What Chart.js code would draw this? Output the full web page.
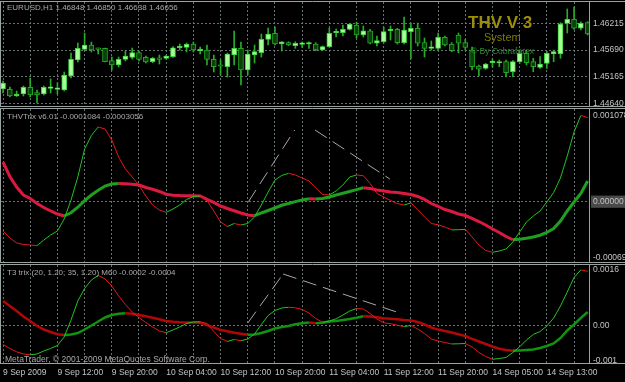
<!DOCTYPE html>
<html>
<head>
<meta charset="utf-8">
<script src="https://cdn.jsdelivr.net/npm/chart.js@4.4.0/dist/chart.umd.min.js"></script>
<style>
    html, body { margin: 0; padding: 0; background: #000; }
    #wrap { position: relative; width: 625px; height: 382px; background: #000; overflow: hidden; }
    .pane { position: absolute; left: 0; width: 625px; }
    canvas { display: block; }
</style>
</head>
<body>
<div id="wrap">
    <div class="pane" style="top:0;height:108px"><canvas id="priceChart" width="625" height="108"></canvas></div>
    <div class="pane" style="top:108px;height:155px"><canvas id="thvChart" width="625" height="155"></canvas></div>
    <div class="pane" style="top:263px;height:119px"><canvas id="t3Chart" width="625" height="119"></canvas></div>
</div>
<script>
// time axis labels, one every 8 hourly bars
const timeLabels = ['9 Sep 2009', '9 Sep 12:00', '9 Sep 20:00', '10 Sep 04:00', '10 Sep 12:00', '10 Sep 20:00',
    '11 Sep 04:00', '11 Sep 12:00', '11 Sep 20:00', '14 Sep 05:00', '14 Sep 13:00'];

// EURUSD H1 candles
const openPrices = [1.44923, 1.44917, 1.44786, 1.44825, 1.44957, 1.44851, 1.44825, 1.44937, 1.44917, 1.44904,
    1.45179, 1.45493, 1.45704, 1.45788, 1.45720, 1.45723, 1.45480, 1.45395, 1.45507, 1.45546,
    1.45637, 1.45546, 1.45460, 1.45510, 1.45527, 1.45559, 1.45735, 1.45743, 1.45808, 1.45676,
    1.45690, 1.45507, 1.45375, 1.45362, 1.45592, 1.45723, 1.45297, 1.45592, 1.45637, 1.45900,
    1.46018, 1.45808, 1.45834, 1.45775, 1.45802, 1.45808, 1.45808, 1.45690, 1.45755, 1.46030,
    1.46030, 1.46097, 1.46181, 1.45985, 1.46069, 1.45822, 1.45853, 1.46069, 1.46097, 1.45834,
    1.46050, 1.46117, 1.45834, 1.45723, 1.45723, 1.45940, 1.45808, 1.45985, 1.45834, 1.45690,
    1.45375, 1.45330, 1.45441, 1.45434, 1.45460, 1.45263, 1.45460, 1.45625, 1.45460, 1.45350,
    1.45428, 1.45611, 1.45611, 1.46215, 1.46294, 1.46117, 1.46227];
const highPrices = [1.45081, 1.44963, 1.44884, 1.44982, 1.45140, 1.44904, 1.44982, 1.45120, 1.45041, 1.45258,
    1.45631, 1.45828, 1.46024, 1.45847, 1.45729, 1.45729, 1.45552, 1.45552, 1.45670, 1.45729,
    1.45670, 1.45572, 1.45546, 1.45592, 1.45592, 1.45755, 1.45808, 1.45828, 1.45847, 1.45749,
    1.45788, 1.45592, 1.45493, 1.45631, 1.46064, 1.45847, 1.45690, 1.45788, 1.46005, 1.46123,
    1.46142, 1.45853, 1.45853, 1.45853, 1.45853, 1.45853, 1.45834, 1.45769, 1.46123, 1.46103,
    1.46181, 1.46215, 1.46240, 1.46162, 1.46097, 1.45965, 1.46142, 1.46162, 1.46117, 1.46339,
    1.46221, 1.46221, 1.45926, 1.45867, 1.46024, 1.45965, 1.45834, 1.46024, 1.45900, 1.45749,
    1.45395, 1.45428, 1.45513, 1.45493, 1.45493, 1.45480, 1.45676, 1.45676, 1.45527, 1.45559,
    1.45657, 1.45690, 1.46227, 1.46496, 1.46535, 1.46246, 1.46246];
const lowPrices = [1.44845, 1.44766, 1.44776, 1.44786, 1.44766, 1.44648, 1.44805, 1.44845, 1.44825, 1.44884,
    1.45140, 1.45454, 1.45690, 1.45651, 1.45611, 1.45454, 1.45297, 1.45356, 1.45474, 1.45513,
    1.45474, 1.45434, 1.45441, 1.45415, 1.45507, 1.45546, 1.45690, 1.45651, 1.45651, 1.45611,
    1.45395, 1.45258, 1.45199, 1.45159, 1.45395, 1.45002, 1.45199, 1.45434, 1.45552, 1.45788,
    1.45788, 1.45670, 1.45775, 1.45723, 1.45743, 1.45723, 1.45676, 1.45676, 1.45749, 1.45946,
    1.45965, 1.46083, 1.45926, 1.45946, 1.45808, 1.45769, 1.45828, 1.45887, 1.45808, 1.45808,
    1.45513, 1.45769, 1.45552, 1.45690, 1.45690, 1.45769, 1.45657, 1.45631, 1.45690, 1.45297,
    1.45179, 1.45311, 1.45356, 1.45362, 1.45159, 1.45165, 1.45428, 1.45395, 1.45263, 1.45330,
    1.45330, 1.45460, 1.45527, 1.46024, 1.46097, 1.46083, 1.45985];
const closePrices = [1.45041, 1.44786, 1.44825, 1.44957, 1.44805, 1.44805, 1.44957, 1.44943, 1.44923, 1.45199,
    1.45507, 1.45723, 1.45788, 1.45690, 1.45704, 1.45460, 1.45395, 1.45507, 1.45572, 1.45637,
    1.45507, 1.45454, 1.45527, 1.45507, 1.45572, 1.45735, 1.45740, 1.45802, 1.45690, 1.45680,
    1.45507, 1.45362, 1.45370, 1.45611, 1.45723, 1.45297, 1.45611, 1.45657, 1.45900, 1.46005,
    1.45808, 1.45853, 1.45788, 1.45822, 1.45806, 1.45810, 1.45690, 1.45755, 1.46018, 1.46034,
    1.46097, 1.46201, 1.45985, 1.46069, 1.45822, 1.45873, 1.46050, 1.46083, 1.45834, 1.46083,
    1.46117, 1.45822, 1.45723, 1.45727, 1.45940, 1.45788, 1.45676, 1.45822, 1.45743, 1.45362,
    1.45311, 1.45415, 1.45444, 1.45454, 1.45244, 1.45460, 1.45625, 1.45441, 1.45362, 1.45415,
    1.45625, 1.45657, 1.46201, 1.46294, 1.46117, 1.46215, 1.46005];

// THVTrix v6.01 (fast trix + signal)
const thvTrix = [-0.000366, -0.000454, -0.000516, -0.000535, -0.000541, -0.000550, -0.000479, -0.000416, -0.000366, -0.000216,
    0.000021, 0.000309, 0.000659, 0.000828, 0.000934, 0.000909, 0.000771, 0.000559, 0.000409, 0.000309,
    0.000203, 0.000071, -0.000041, -0.000104, -0.000133, -0.000091, -0.000041, 0.000028, 0.000065, 0.000071,
    0.000015, -0.000116, -0.000254, -0.000310, -0.000273, -0.000291, -0.000273, -0.000191, -0.000041, 0.000121,
    0.000271, 0.000328, 0.000355, 0.000334, 0.000296, 0.000259, 0.000178, 0.000090, 0.000084, 0.000134,
    0.000209, 0.000309, 0.000334, 0.000325, 0.000228, 0.000103, 0.000059, 0.000015, -0.000023, -0.000041,
    -0.000016, -0.000098, -0.000191, -0.000273, -0.000289, -0.000316, -0.000352, -0.000350, -0.000346, -0.000441,
    -0.000541, -0.000610, -0.000633, -0.000616, -0.000591, -0.000504, -0.000379, -0.000254, -0.000179, -0.000116,
    -0.000004, 0.000115, 0.000296, 0.000571, 0.000871, 0.001078, 0.001052];
const thvSignal = [0.000496, 0.000315, 0.000184, 0.000084, 0.000040, -0.000023, -0.000073, -0.000116, -0.000154, -0.000179,
    -0.000138, -0.000069, 0.000014, 0.000084, 0.000143, 0.000196, 0.000221, 0.000226, 0.000225, 0.000219,
    0.000209, 0.000178, 0.000155, 0.000128, 0.000094, 0.000080, 0.000076, 0.000075, 0.000074, 0.000071,
    0.000030, -0.000009, -0.000054, -0.000085, -0.000113, -0.000141, -0.000166, -0.000175, -0.000141, -0.000110,
    -0.000079, -0.000045, -0.000023, 0.000001, 0.000021, 0.000036, 0.000034, 0.000040, 0.000059, 0.000084,
    0.000105, 0.000128, 0.000151, 0.000175, 0.000165, 0.000146, 0.000134, 0.000121, 0.000115, 0.000103,
    0.000090, 0.000065, 0.000028, -0.000023, -0.000060, -0.000098, -0.000123, -0.000154, -0.000173, -0.000210,
    -0.000248, -0.000291, -0.000341, -0.000385, -0.000435, -0.000476, -0.000470, -0.000458, -0.000441, -0.000419,
    -0.000385, -0.000335, -0.000241, -0.000116, -0.000004, 0.000103, 0.000259];

// T3 trix (20, 1.20; 35, 1.20) M60
const t3Trix = [-0.000540, -0.000654, -0.000749, -0.000812, -0.000835, -0.000812, -0.000726, -0.000654, -0.000568, -0.000324,
    0.000164, 0.000709, 0.001068, 0.001312, 0.001446, 0.001340, 0.001139, 0.000852, 0.000608, 0.000393,
    0.000235, 0.000092, -0.000037, -0.000152, -0.000201, -0.000123, -0.000037, 0.000063, 0.000106, 0.000110,
    0.000063, -0.000166, -0.000367, -0.000453, -0.000396, -0.000431, -0.000382, -0.000238, 0.000034, 0.000293,
    0.000436, 0.000508, 0.000528, 0.000514, 0.000465, 0.000364, 0.000207, 0.000098, 0.000135, 0.000198,
    0.000307, 0.000422, 0.000494, 0.000479, 0.000350, 0.000192, 0.000083, 0.000057, 0.000014, -0.000029,
    0.000011, -0.000095, -0.000224, -0.000382, -0.000439, -0.000482, -0.000525, -0.000519, -0.000511, -0.000611,
    -0.000769, -0.000884, -0.000964, -0.000941, -0.000913, -0.000769, -0.000606, -0.000410, -0.000253, -0.000166,
    -0.000009, 0.000221, 0.000565, 0.000967, 0.001383, 0.001600, 0.001561];
const t3Signal = [0.000709, 0.000565, 0.000422, 0.000264, 0.000135, -0.000009, -0.000109, -0.000181, -0.000244, -0.000267,
    -0.000253, -0.000210, -0.000109, 0.000006, 0.000121, 0.000235, 0.000307, 0.000342, 0.000356, 0.000342,
    0.000307, 0.000270, 0.000227, 0.000184, 0.000135, 0.000112, 0.000100, 0.000095, 0.000089, 0.000083,
    0.000020, -0.000052, -0.000123, -0.000161, -0.000201, -0.000232, -0.000261, -0.000255, -0.000210, -0.000152,
    -0.000080, -0.000037, -0.000009, 0.000040, 0.000069, 0.000092, 0.000069, 0.000083, 0.000121, 0.000135,
    0.000164, 0.000192, 0.000227, 0.000270, 0.000261, 0.000241, 0.000215, 0.000198, 0.000184, 0.000164,
    0.000149, 0.000106, 0.000034, -0.000052, -0.000112, -0.000152, -0.000195, -0.000244, -0.000296, -0.000376,
    -0.000453, -0.000525, -0.000597, -0.000663, -0.000697, -0.000718, -0.000709, -0.000697, -0.000683, -0.000640,
    -0.000583, -0.000511, -0.000353, -0.000138, 0.000034, 0.000221, 0.000393];

// hand drawn trend lines (bar index, value)
const thvTrendUp = [{ x: 36.1, y: 0.0 }, { x: 42.9, y: 0.000896 }];
const thvTrendDown = [{ x: 45.9, y: 0.000896 }, { x: 56.9, y: 0.000284 }];
const t3TrendUp = [{ x: 36.0, y: 0.000077 }, { x: 41.2, y: 0.001484 }];
const t3TrendDown = [{ x: 41.2, y: 0.001484 }, { x: 57.9, y: 0.000393 }];

// scale ticks
const priceTicks = [1.46215, 1.45690, 1.45165, 1.44640];
const priceTickLabels = ['1.46215', '1.45690', '1.45165', '1.44640'];
const thvTicks = [0.001078, 0, -0.000694];
const thvTickLabels = ['0.001078', '0.00000', '-0.000694'];
const t3Ticks = [0.0016, 0, -0.001];
const t3TickLabels = ['0.0016', '0.00', '-0.001'];

const gridColor = '#667272';
const frameColor = '#9aa2a2';
const textColor = '#c4c4c4';
const tickFont = { family: 'Liberation Sans', size: 8.5 };
const greenThin = '#22c322';
const redThin = '#e41818';

const paneText = {
    id: 'paneText',
    afterDraw(chart, args, opts) {
        const ctx = chart.ctx;
        ctx.save();
        ctx.textBaseline = 'middle';
        (opts.items || []).forEach(function (t) {
            ctx.font = t.font;
            ctx.fillStyle = t.color;
            ctx.textAlign = t.align || 'left';
            ctx.fillText(t.text, t.x, t.y);
        });
        ctx.restore();
    }
};

const paneFrame = {
    id: 'paneFrame',
    afterDraw(chart) {
        const ctx = chart.ctx;
        const a = chart.chartArea;
        ctx.save();
        ctx.strokeStyle = frameColor;
        ctx.lineWidth = 1;
        ctx.beginPath();
        ctx.moveTo(0, a.top - 0.5); ctx.lineTo(chart.width, a.top - 0.5);
        ctx.moveTo(0, a.bottom + 0.5); ctx.lineTo(chart.width, a.bottom + 0.5);
        ctx.moveTo(a.right + 0.5, a.top - 0.5); ctx.lineTo(a.right + 0.5, a.bottom + 0.5);
        ctx.moveTo(0.5, a.top - 0.5); ctx.lineTo(0.5, a.bottom + 0.5);
        ctx.stroke();
        ctx.restore();
    }
};

function xAxis(showLabels) {
    return {
        type: 'linear',
        min: -0.3,
        max: 86.2,
        offset: false,
        afterBuildTicks: function (scale) {
            const t = [];
            for (let v = 0; v <= 84; v += 4) t.push({ value: v });
            scale.ticks = t;
        },
        afterFit: function (scale) {
            scale.height = showLabels ? 19 : 0;
            scale.paddingLeft = 0;
            scale.paddingRight = 0;
        },
        grid: { color: gridColor, drawTicks: false, offset: false },
        border: { display: false, dash: [2, 2] },
        ticks: {
            display: showLabels,
            autoSkip: false,
            maxRotation: 0,
            align: 'start',
            padding: 5,
            color: textColor,
            font: tickFont,
            callback: function (v) { return v % 8 === 0 ? timeLabels[v / 8] : ''; }
        }
    };
}

function yAxis(min, max, values, labels, zeroOnly) {
    return {
        position: 'right',
        min: min,
        max: max,
        afterBuildTicks: function (scale) { scale.ticks = values.map(v => ({ value: v })); },
        afterFit: function (scale) {
            scale.width = 36;
            scale.paddingTop = 0;
            scale.paddingBottom = 0;
        },
        grid: {
            drawTicks: false,
            color: ctx => (!zeroOnly || (ctx.tick && ctx.tick.value === 0)) ? gridColor : 'rgba(0,0,0,0)'
        },
        border: { display: false, dash: [2, 2] },
        ticks: {
            padding: 4,
            color: textColor,
            font: tickFont,
            showLabelBackdrop: ctx => zeroOnly && ctx.tick && ctx.tick.value === 0 && labels[1] === '0.00000',
            backdropColor: '#4a4a4a',
            backdropPadding: { left: 2, right: 3, top: 1, bottom: 1 },
            callback: function (v, i) { return labels[i]; }
        }
    };
}

function slope(up, down) {
    return ctx => ctx.p1.parsed.y >= ctx.p0.parsed.y ? up : down;
}

function indicatorSets(fast, signal, trendA, trendB, thick) {
    return [
        {
            data: trendA, borderColor: '#a8a8a8', borderWidth: 1, borderDash: [14, 7],
            pointRadius: 0, order: 0
        },
        {
            data: trendB, borderColor: '#a8a8a8', borderWidth: 1, borderDash: [14, 7],
            pointRadius: 0, order: 0
        },
        {
            data: fast.map((v, i) => ({ x: i, y: v })),
            borderColor: greenThin, borderWidth: 1, pointRadius: 0, order: 1,
            segment: { borderColor: slope(greenThin, redThin) }
        },
        {
            data: signal.map((v, i) => ({ x: i, y: v })),
            borderColor: thick.up, borderWidth: thick.width, pointRadius: 0, order: 2,
            segment: { borderColor: slope(thick.up, thick.down) }
        }
    ];
}

const noTooltips = { legend: { display: false }, tooltip: { enabled: false } };
const headFont = "8px 'Liberation Sans'";

// price pane
new Chart(document.getElementById('priceChart'), {
    type: 'bar',
    data: {
        datasets: [
            {
                data: openPrices.map((o, i) => ({ x: i, y: [o, closePrices[i]] })),
                backgroundColor: ctx => closePrices[ctx.dataIndex] >= openPrices[ctx.dataIndex] ? '#a6ff98' : '#0c3f0c',
                borderColor: ctx => closePrices[ctx.dataIndex] >= openPrices[ctx.dataIndex] ? '#3fcf3f' : '#23a823',
                borderWidth: 1,
                borderSkipped: false,
                barThickness: 5,
                minBarLength: 1.5,
                grouped: false,
                order: 0
            },
            {
                data: lowPrices.map((l, i) => ({ x: i, y: [l, highPrices[i]] })),
                backgroundColor: '#27ad27',
                barThickness: 1,
                grouped: false,
                order: 1
            }
        ]
    },
    options: {
        responsive: false,
        animation: false,
        devicePixelRatio: 1,
        layout: { padding: { top: 2, bottom: 2, left: 1, right: 0 } },
        plugins: Object.assign({}, noTooltips, {
            paneText: {
                items: [
                    { text: 'EURUSD,H1 1.46848 1.46850 1.46638 1.46656', x: 7, y: 8, font: headFont, color: '#a9a9a9' },
                    { text: 'THV V 3', x: 468, y: 23, font: "bold 17px 'Liberation Sans'", color: '#9b8f0a' },
                    { text: 'System', x: 484, y: 38, font: "11px 'Liberation Sans'", color: '#7f7a06' },
                    { text: '\u00a9 By Cobraforex', x: 471, y: 52, font: "8.5px 'Liberation Sans'", color: '#2a8a2a' }
                ]
            }
        }),
        scales: {
            x: xAxis(false),
            y: yAxis(1.44589, 1.46634, priceTicks, priceTickLabels, false)
        }
    },
    plugins: [paneFrame, paneText]
});

// THVTrix pane
new Chart(document.getElementById('thvChart'), {
    type: 'line',
    data: { datasets: indicatorSets(thvTrix, thvSignal, thvTrendUp, thvTrendDown, { up: '#1f9f1f', down: '#dc1a40', width: 3 }) },
    options: {
        responsive: false,
        animation: false,
        devicePixelRatio: 1,
        layout: { padding: { top: 1, bottom: 1, left: 1, right: 0 } },
        plugins: Object.assign({}, noTooltips, {
            paneText: {
                items: [
                    { text: 'THVTrix v6.01 -0.0001084 -0.0003056', x: 7, y: 9, font: headFont, color: '#a9a9a9' }
                ]
            }
        }),
        scales: {
            x: xAxis(false),
            y: yAxis(-0.000754, 0.001159, thvTicks, thvTickLabels, true)
        }
    },
    plugins: [paneFrame, paneText]
});

// T3 trix pane
new Chart(document.getElementById('t3Chart'), {
    type: 'line',
    data: { datasets: indicatorSets(t3Trix, t3Signal, t3TrendUp, t3TrendDown, { up: '#129212', down: '#b00808', width: 2.5 }) },
    options: {
        responsive: false,
        animation: false,
        devicePixelRatio: 1,
        layout: { padding: { top: 2, bottom: 0, left: 1, right: 0 } },
        plugins: Object.assign({}, noTooltips, {
            paneText: {
                items: [
                    { text: 'T3 trix (20, 1.20; 35, 1.20) M60 -0.0002 -0.0004', x: 7, y: 10, font: headFont, color: '#a9a9a9' },
                    { text: 'MetaTrader, \u00a9 2001-2009 MetaQuotes Software Corp.', x: 5, y: 97, font: "8.5px 'Liberation Sans'", color: '#a9a9a9' }
                ]
            }
        }),
        scales: {
            x: xAxis(true),
            y: yAxis(-0.001071, 0.001742, t3Ticks, t3TickLabels, true)
        }
    },
    plugins: [paneFrame, paneText]
});
</script>
</body>
</html>
